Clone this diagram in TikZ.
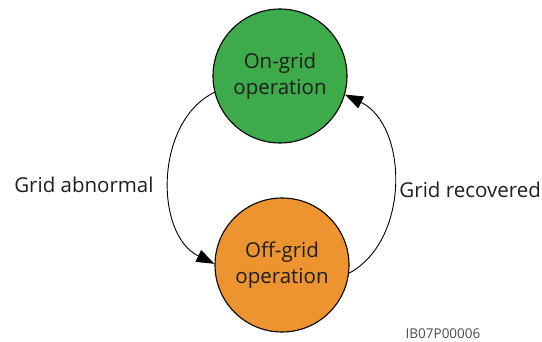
\documentclass[tikz,border=0pt]{standalone}
\usepackage{fontspec}
\setmainfont{Open Sans}
\usepackage{xcolor}
\usepackage{tikz}
\usetikzlibrary{arrows.meta}
\definecolor{gridgreen}{RGB}{61,171,73}
\definecolor{gridorange}{RGB}{237,148,48}
\definecolor{txtgray}{RGB}{30,30,30}
\tikzset{>={Triangle[length=18pt,width=13pt]}}
\tikzset{
  modenode/.style={circle,draw=black,line width=1.1pt,minimum size=134pt,inner sep=0pt,
    align=center,text=txtgray,font=\fontsize{20.5}{26}\selectfont},
  eventlabel/.style={text=txtgray,font=\fontsize{20.5}{24}\selectfont}
}
\begin{document}
\begin{tikzpicture}[line cap=round,line join=round,x=1pt,y=1pt]
			\useasboundingbox (0,0) rectangle (542,342);
			\node[modenode,fill=gridgreen] (ongrid) at (280,266) {On-grid\\operation};
			\node[modenode,fill=gridorange] (offgrid) at (282,77) {Off-grid\\operation};
			\draw[->,line width=0.9pt] (ongrid.194) to[bend right=64] node[left=12pt,yshift=-7pt] (abn) [eventlabel] {Grid abnormal} (offgrid.179);
			\draw[->,line width=0.9pt] (offgrid.-7) to[bend right=63] node[right=2pt,yshift=-7pt] (rec) [eventlabel] {Grid recovered} (ongrid.-16);
			\node[text=txtgray!80,font=\fontsize{13.5}{15}\selectfont] (figid) at (443,8) {IB07P00006};
			\end{tikzpicture}
\end{document}
